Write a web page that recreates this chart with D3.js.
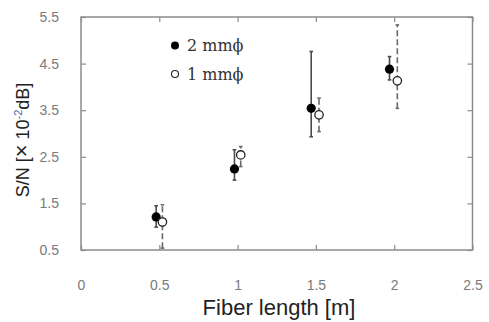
<!doctype html>
<html>
<head>
<meta charset="UTF-8">
<script src="https://cdn.jsdelivr.net/npm/d3@7"></script>
<style>
  body { margin: 0; background: #fff; }
  text { font-family: "Liberation Sans", Arial, sans-serif; }
</style>
</head>
<body>
<svg id="chart" width="489" height="322"></svg>
<script>
// data
const xTicks = [0, 0.5, 1, 1.5, 2, 2.5];
const yTicks = [0.5, 1.5, 2.5, 3.5, 4.5, 5.5];

const series2mm = [
  {x: 0.48, y: 1.21, lo: 0.99, hi: 1.45},
  {x: 0.98, y: 2.24, lo: 2.00, hi: 2.65},
  {x: 1.47, y: 3.54, lo: 2.93, hi: 4.76},
  {x: 1.97, y: 4.38, lo: 4.15, hi: 4.65}
];
const series1mm = [
  {x: 0.52, y: 1.10, lo: 0.54, hi: 1.47},
  {x: 1.02, y: 2.54, lo: 2.29, hi: 2.72},
  {x: 1.52, y: 3.40, lo: 3.04, hi: 3.76},
  {x: 2.02, y: 4.13, lo: 3.54, hi: 5.33}
];

const svg = d3.select("#chart");
const frame = "#8c8c8c";

const x = d3.scaleLinear().domain([0, 2.5]).range([81, 472.5]);
const y = d3.scaleLinear().domain([0.5, 5.5]).range([250, 17]);

// frame
svg.append("rect")
  .attr("x", x(0)).attr("y", y(5.5))
  .attr("width", x(2.5) - x(0)).attr("height", y(0.5) - y(5.5))
  .attr("fill", "none").attr("stroke", frame).attr("stroke-width", 1.5);

// axes with inward ticks
const styleAxis = g => {
  g.select(".domain").remove();
  g.selectAll(".tick line").attr("stroke", frame).attr("stroke-width", 1.2);
  g.selectAll(".tick text").attr("fill", "#7a7a7a").attr("font-size", 14);
};
svg.append("g").attr("transform", `translate(0,${y(0.5)})`)
  .call(d3.axisBottom(x).tickValues(xTicks).tickSizeInner(-5).tickSizeOuter(0).tickPadding(30)
    .tickFormat(d3.format("")))
  .call(styleAxis);
svg.append("g").attr("transform", `translate(0,${y(5.5)})`)
  .call(d3.axisTop(x).tickValues(xTicks).tickSizeInner(-5).tickSizeOuter(0).tickFormat(""))
  .call(styleAxis);
svg.append("g").attr("transform", `translate(${x(0)},0)`)
  .call(d3.axisLeft(y).tickValues(yTicks).tickSizeInner(-5).tickSizeOuter(0).tickPadding(22)
    .tickFormat(d3.format(".1f")))
  .call(styleAxis);
svg.append("g").attr("transform", `translate(${x(2.5)},0)`)
  .call(d3.axisRight(y).tickValues(yTicks).tickSizeInner(-5).tickSizeOuter(0).tickFormat(""))
  .call(styleAxis);

// error bars
function errorBars(data, color, dash) {
  const g = svg.append("g");
  g.selectAll("line.bar").data(data).join("line")
    .attr("x1", d => x(d.x)).attr("x2", d => x(d.x))
    .attr("y1", d => y(d.lo)).attr("y2", d => y(d.hi))
    .attr("stroke", color).attr("stroke-width", 1.6)
    .attr("stroke-dasharray", dash);
  ["lo", "hi"].forEach(k => {
    g.selectAll("line.cap" + k).data(data).join("line")
      .attr("x1", d => x(d.x) - 1.8).attr("x2", d => x(d.x) + 1.8)
      .attr("y1", d => y(d[k])).attr("y2", d => y(d[k]))
      .attr("stroke", color).attr("stroke-width", 1.6);
  });
}
errorBars(series2mm, "#4a4a4a", null);
errorBars(series1mm, "#6a6a6a", "6,3");

// markers
svg.append("g").selectAll("circle").data(series2mm).join("circle")
  .attr("cx", d => x(d.x)).attr("cy", d => y(d.y)).attr("r", 4.6)
  .attr("fill", "#000");
svg.append("g").selectAll("circle").data(series1mm).join("circle")
  .attr("cx", d => x(d.x)).attr("cy", d => y(d.y)).attr("r", 4.2)
  .attr("fill", "#fff").attr("stroke", "#222").attr("stroke-width", 1.3);

// legend
const legend = [
  {label: "2 mm\u03d5", filled: true, ly: 45.5},
  {label: "1 mm\u03d5", filled: false, ly: 74}
];
const lg = svg.append("g").selectAll("g").data(legend).join("g")
  .attr("transform", d => `translate(175,${d.ly})`);
lg.append("circle").attr("r", d => d.filled ? 4 : 3.5)
  .attr("fill", d => d.filled ? "#000" : "#fff")
  .attr("stroke", "#222").attr("stroke-width", d => d.filled ? 0 : 1.1);
lg.append("text").attr("x", 12).attr("y", 5.5)
  .attr("font-size", 16).attr("fill", "#333")
  .style("font-family", "'DejaVu Serif', serif")
  .text(d => d.label);

// axis titles
svg.append("text").attr("x", 279).attr("y", 315).attr("text-anchor", "middle")
  .attr("font-size", 22).attr("fill", "#222").text("Fiber length [m]");
const yl = svg.append("text")
  .attr("transform", "translate(29,140) rotate(-90)")
  .attr("text-anchor", "middle").attr("font-size", 18).attr("fill", "#222");
yl.append("tspan").text("S/N [");
yl.append("tspan").attr("font-size", 22).text("\u00d7");
yl.append("tspan").text(" 10");
yl.append("tspan").attr("dy", -7).attr("font-size", 11).attr("fill", "#5a5aa8").text("-2");
yl.append("tspan").attr("dy", 7).text("dB]");
</script>
</body>
</html>
